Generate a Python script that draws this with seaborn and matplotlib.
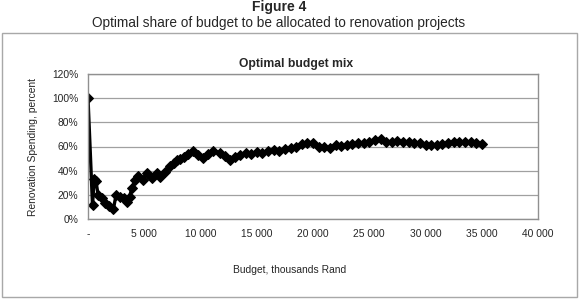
import matplotlib
matplotlib.use("Agg")
import matplotlib.pyplot as plt
from matplotlib.patches import Rectangle
from matplotlib.ticker import FuncFormatter
import pandas as pd
import seaborn as sns

# budget in thousands Rand, renovation share in percent
budget = [0, 400, 550, 700, 900, 1200, 1500, 1900, 2250, 2500, 2850, 3200,
          3450, 3700, 3900, 4200, 4450, 4850, 5250, 5650, 6100, 6400, 6850,
          7300, 7600, 7900, 8200, 8500, 8900, 9350, 9800, 10250, 10700, 11150,
          11700, 12150, 12600, 13050, 13500, 14000, 14500, 15000, 15500, 16000,
          16500, 17000, 17500, 18000, 18500, 19000, 19500, 20000, 20500, 21000,
          21500, 22000, 22500, 23000, 23500, 24000, 24500, 25000, 25500, 26000,
          26500, 27000, 27500, 28000, 28500, 29000, 29500, 30000, 30500, 31000,
          31500, 32000, 32500, 33000, 33500, 34000, 34500, 35000]
share = [100, 11.5, 33, 31.5, 20, 17, 13, 10.5, 8, 20, 18, 17,
         14, 18.5, 26, 32, 35.5, 32, 38, 34, 38, 34.5, 39,
         44, 46, 48.5, 50, 51.5, 53.5, 56, 53, 50.5, 54, 56.5,
         54.5, 52, 49, 51.5, 53, 54.5, 54, 55.5, 55, 56,
         57, 56, 58, 58.5, 60, 62, 62.5, 63, 60, 59.5,
         59, 61, 60.5, 61, 62, 62.5, 63, 64, 65, 66,
         63.5, 64, 64.5, 64, 63.5, 63, 62.5, 61.5, 61, 61.5,
         62, 63, 63.5, 64, 63.5, 63.5, 63, 62]

x_ticks = [0, 5000, 10000, 15000, 20000, 25000, 30000, 35000, 40000]
y_ticks = [0, 20, 40, 60, 80, 100, 120]

df = pd.DataFrame({"budget": budget, "share": share})

sns.set_style("white")
plt.rcParams["font.family"] = ["Liberation Sans", "DejaVu Sans"]

fig = plt.figure(figsize=(5.8, 2.99), dpi=100)

# outer chart-area frame
fig.patches.append(Rectangle((2 / 580, 2 / 299), 575 / 580, 264 / 299,
                             transform=fig.transFigure, fill=False,
                             edgecolor="#a8a8a8", linewidth=1.0))

ax = fig.add_axes([88 / 580, 1 - 219 / 299, 450 / 580, 145 / 299])
sns.lineplot(data=df, x="budget", y="share", ax=ax, color="black",
             linewidth=2.4, marker="D", markersize=5.5, markeredgecolor="black")

ax.set_xlim(0, 40000)
ax.set_ylim(0, 120)
ax.set_xticks(x_ticks)
ax.set_yticks(y_ticks)
ax.xaxis.set_major_formatter(FuncFormatter(
    lambda v, p: "-" if v == 0 else f"{int(v):,}".replace(",", " ")))
ax.yaxis.set_major_formatter(FuncFormatter(lambda v, p: f"{int(v)}%"))
ax.tick_params(axis="both", labelsize=7.4, length=3, width=0.8,
               color="#808080", pad=4)
ax.yaxis.grid(True, color="#a0a0a0", linewidth=0.9)
ax.set_axisbelow(True)
for side in ["left", "bottom", "top", "right"]:
    ax.spines[side].set_visible(True)
    ax.spines[side].set_color("#909090")
    ax.spines[side].set_linewidth(1.0)

ax.set_xlabel("Budget, thousands Rand", fontsize=7.4)
ax.xaxis.set_label_coords(0.449, -0.315)
ax.set_ylabel("Renovation Spending, percent", fontsize=7.4)
ax.yaxis.set_label_coords(-0.112, 0.5)
ax.set_title("Optimal budget mix", fontsize=8.7, fontweight="bold",
             x=0.462, pad=5)

fig.text(279 / 580, 1 - 7 / 299, "Figure 4", ha="center", va="center",
         fontsize=10, fontweight="bold")
fig.text(279 / 580, 1 - 23 / 299,
         "Optimal share of budget to be allocated to renovation projects",
         ha="center", va="center", fontsize=9.8)

fig.savefig("out.png", dpi=100)
